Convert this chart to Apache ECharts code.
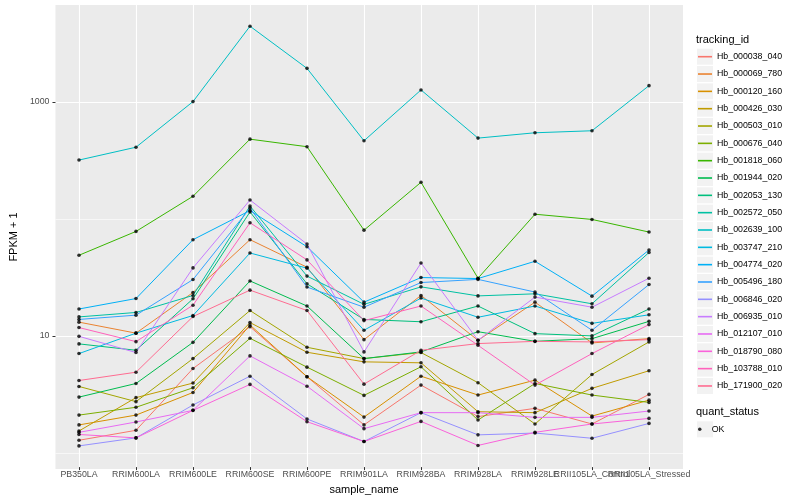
<!DOCTYPE html>
<html><head><meta charset="utf-8">
<script src="https://cdn.jsdelivr.net/npm/echarts@6/dist/echarts.min.js"></script>
<style>html,body{margin:0;padding:0;background:#fff}#c{width:800px;height:500px}</style>
</head><body><div id="c"></div>
<script>
const categories = ['PB350LA','RRIM600LA','RRIM600LE','RRIM600SE','RRIM600PE','RRIM901LA','RRIM928BA','RRIM928LA','RRIM928LE','RRII105LA_Control','RRII105LA_Stressed'];
const trackingIds = ['Hb_000038_040','Hb_000069_780','Hb_000120_160','Hb_000426_030','Hb_000503_010','Hb_000676_040','Hb_001818_060','Hb_001944_020','Hb_002053_130','Hb_002572_050','Hb_002639_100','Hb_003747_210','Hb_004774_020','Hb_005496_180','Hb_006846_020','Hb_006935_010','Hb_012107_010','Hb_018790_080','Hb_103788_010','Hb_171900_020'];
const trackingColors = ['#F8766D','#EA8331','#D89000','#C09B00','#A3A500','#7CAE00','#39B600','#00BB4E','#00BF7D','#00C1A3','#00BFC4','#00BAE0','#00B0F6','#35A2FF','#9590FF','#C77CFF','#E76BF3','#FA62DB','#FF62BC','#FF6C91'];

// FPKM + 1 values, one array per tracking_id, in category order
const hb_000038_040 = [1.24, 1.51, 5.12, 11.7, 4.35, 1.68, 3.69, 1.98, 2.33, 1.71, 3.07];
const hb_000069_780 = [12.8, 10.3, 23.0, 65.3, 37.9, 9.06, 21.7, 8.94, 19.0, 8.49, 9.24];
const hb_000120_160 = [1.68, 2.04, 3.19, 12.1, 4.35, 1.96, 4.40, 3.03, 4.07, 2.00, 2.74];
const hb_000426_030 = [1.49, 2.88, 3.84, 12.7, 7.06, 5.84, 5.73, 2.18, 2.14, 3.46, 4.90];
const hb_000503_010 = [3.59, 2.66, 6.23, 16.1, 7.79, 6.23, 7.02, 3.87, 1.71, 4.55, 8.66];
const hb_000676_040 = [2.04, 2.38, 3.50, 9.30, 5.26, 3.01, 5.30, 1.85, 3.81, 3.03, 2.62];
const hb_001818_060 = [48.0, 76.9, 154, 476, 410, 78.8, 203, 30.5, 108, 97.4, 75.9];
const hb_001944_020 = [2.91, 3.81, 8.59, 28.9, 17.6, 6.23, 7.11, 10.6, 8.76, 9.24, 13.0];
const hb_002053_130 = [8.33, 7.34, 20.3, 113, 27.3, 13.5, 12.9, 17.6, 10.2, 9.75, 16.6];
const hb_002572_050 = [14.2, 15.5, 21.7, 127, 31.8, 18.2, 25.7, 21.5, 22.4, 18.4, 50.7];
const hb_002639_100 = [315, 406, 1000, 4436, 1928, 461, 1259, 486, 540, 562, 1370];
const hb_003747_210 = [6.88, 10.3, 14.6, 50.2, 37.2, 10.9, 20.6, 14.1, 17.6, 12.5, 14.8];
const hb_004774_020 = [16.6, 20.4, 65.3, 116, 56.8, 19.0, 30.9, 30.3, 42.6, 21.4, 53.3];
const hb_005496_180 = [13.5, 14.7, 29.7, 122, 25.6, 17.2, 28.0, 29.8, 23.2, 10.9, 26.9];
const hb_006846_020 = [1.11, 1.30, 2.49, 4.40, 1.89, 1.21, 2.14, 1.38, 1.43, 1.29, 1.73];
const hb_006935_010 = [9.67, 7.02, 37.4, 143, 59.9, 7.11, 41.2, 8.94, 21.0, 17.2, 30.5];
const hb_012107_010 = [1.45, 1.78, 2.24, 6.57, 3.61, 1.56, 2.14, 2.14, 1.95, 1.95, 2.21];
const hb_018790_080 = [1.39, 1.30, 2.24, 3.74, 1.79, 1.21, 1.80, 1.12, 1.45, 1.71, 1.91];
const hb_103788_010 = [11.5, 8.71, 17.9, 91.2, 43.8, 13.2, 17.6, 8.10, 3.69, 6.88, 12.2];
const hb_171900_020 = [4.04, 4.76, 14.3, 24.1, 16.1, 3.76, 7.34, 8.38, 8.76, 8.66, 9.06];

const seriesValues = [hb_000038_040, hb_000069_780, hb_000120_160, hb_000426_030, hb_000503_010, hb_000676_040, hb_001818_060, hb_001944_020, hb_002053_130, hb_002572_050, hb_002639_100, hb_003747_210, hb_004774_020, hb_005496_180, hb_006846_020, hb_006935_010, hb_012107_010, hb_018790_080, hb_103788_010, hb_171900_020];

const yBreaks = [10, 1000];
const yMinorBreaks = [1, 100];
const quantStatus = ['OK'];

const FONT = '"Liberation Sans", Arial, Helvetica, sans-serif';
const Y_MIN = 0.7298, Y_MAX = 6745;

const chart = echarts.init(document.getElementById('c'), null, {renderer: 'canvas'});

const lineSeries = trackingIds.map((name, i) => ({
  name: name,
  type: 'line',
  xAxisIndex: 1, yAxisIndex: 2,
  data: seriesValues[i],
  showSymbol: false,
  symbol: 'none',
  lineStyle: {width: 1, color: trackingColors[i]},
  itemStyle: {color: trackingColors[i]},
  z: 2, silent: true, animation: false
}));

const pointData = [];
seriesValues.forEach(vals => vals.forEach((v, j) => pointData.push([categories[j], v])));

const ROW = 17.33, FIRST = 56.7;
const keyBoxes = trackingIds.map((_, i) => ({
  type: 'rect', silent: true,
  shape: {x: 697, y: FIRST + i * ROW - 8, width: 16, height: 16},
  style: {fill: '#F2F2F2'}
}));
keyBoxes.push({type: 'rect', silent: true, shape: {x: 697, y: 421.3, width: 16, height: 16}, style: {fill: '#F2F2F2'}});

chart.setOption({
  animation: false,
  backgroundColor: '#FFFFFF',
  textStyle: {fontFamily: FONT},
  grid: [
    {left: 45, top: 5, width: 638, height: 464, show: true, backgroundColor: '#EBEBEB', borderWidth: 0},
    {left: 79, top: 5, width: 570, height: 464, show: false}
  ],
  xAxis: [
    {gridIndex: 0, type: 'value', min: 0, max: 1, show: false},
    {gridIndex: 1, type: 'category', data: categories, boundaryGap: false,
     axisLine: {show: false},
     axisTick: {show: true, length: 3, lineStyle: {color: '#333333', width: 1}},
     axisLabel: {interval: 0, color: '#4D4D4D', fontSize: 8.8, margin: 3, fontFamily: FONT},
     splitLine: {show: true, lineStyle: {color: '#FFFFFF', width: 1.1}},
     name: 'sample_name', nameLocation: 'middle', nameGap: 13,
     nameTextStyle: {color: '#000', fontSize: 11, fontFamily: FONT}}
  ],
  yAxis: [
    {gridIndex: 0, type: 'log', logBase: 10, min: Y_MIN, max: Y_MAX,
     axisLine: {show: false},
     axisTick: {show: false, customValues: yMinorBreaks},
     axisLabel: {show: false, customValues: yMinorBreaks},
     splitLine: {show: true, lineStyle: {color: '#FFFFFF', width: 0.6}}},
    {gridIndex: 0, type: 'log', logBase: 10, min: Y_MIN, max: Y_MAX, position: 'left',
     axisLine: {show: false},
     axisTick: {show: true, length: 3, lineStyle: {color: '#333333', width: 1}, customValues: yBreaks},
     axisLabel: {customValues: yBreaks, color: '#4D4D4D', fontSize: 8.8, margin: 6, fontFamily: FONT,
       formatter: v => { const r = Math.round(v); return yBreaks.indexOf(r) >= 0 ? String(r) : ''; }},
     splitLine: {show: true, lineStyle: {color: '#FFFFFF', width: 1.1}},
     name: 'FPKM + 1', nameLocation: 'middle', nameGap: 26,
     nameTextStyle: {color: '#000', fontSize: 11, fontFamily: FONT}},
    {gridIndex: 1, type: 'log', logBase: 10, min: Y_MIN, max: Y_MAX, show: false}
  ],
  legend: [
    {data: trackingIds.map(n => ({name: n, icon: 'rect'})), orient: 'vertical', left: 698, top: FIRST - 8.5,
     itemWidth: 14, itemHeight: 1.6, itemGap: ROW - 17, padding: 0, selectedMode: false,
     textStyle: {color: '#000', fontSize: 8.8, lineHeight: 17, fontFamily: FONT}},
    {data: quantStatus.map(n => ({name: n, icon: 'circle'})), orient: 'vertical', left: 698, top: 429.3 - 8.5,
     itemWidth: 14, itemHeight: 3.5, padding: 0, selectedMode: false, symbolKeepAspect: true,
     textStyle: {color: '#000', fontSize: 8.8, lineHeight: 17, fontFamily: FONT}}
  ],
  graphic: keyBoxes.concat([
    {type: 'text', silent: true, style: {x: 696, y: 40, text: 'tracking_id', fill: '#000', fontSize: 11, fontFamily: FONT, verticalAlign: 'middle'}},
    {type: 'text', silent: true, style: {x: 696, y: 411.5, text: 'quant_status', fill: '#000', fontSize: 11, fontFamily: FONT, verticalAlign: 'middle'}}
  ]),
  series: lineSeries.concat([{
    name: quantStatus[0], type: 'scatter', xAxisIndex: 1, yAxisIndex: 2,
    data: pointData, symbol: 'circle', symbolSize: 3.6,
    itemStyle: {color: '#000000'}, z: 3, silent: true, animation: false
  }])
});
</script></body></html>
